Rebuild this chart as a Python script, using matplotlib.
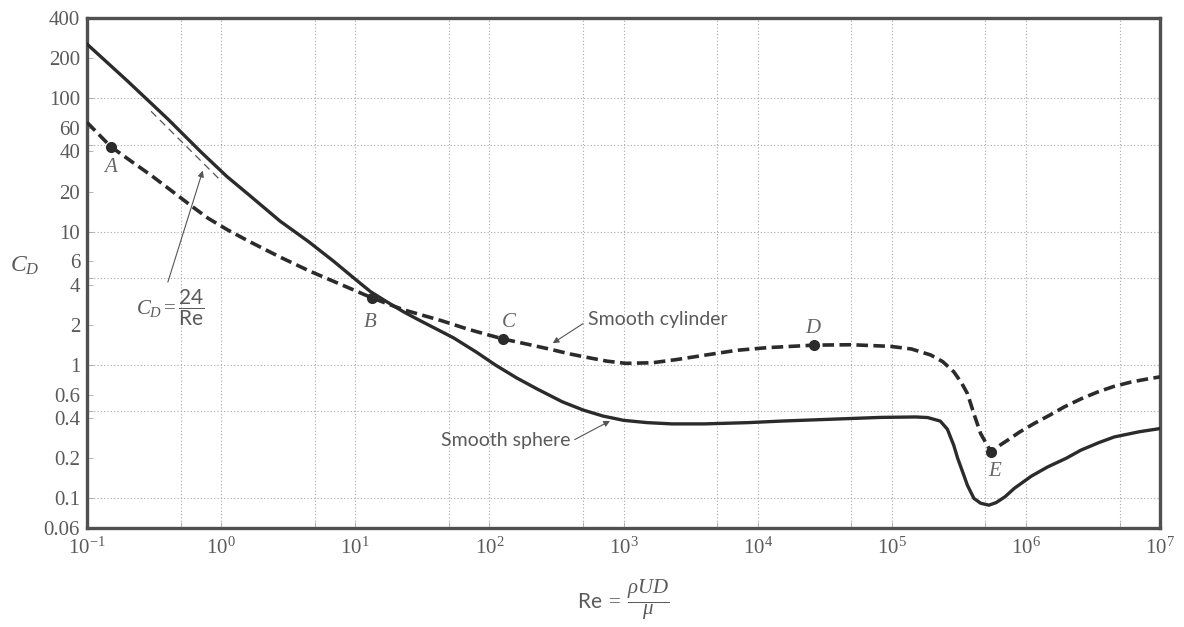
import matplotlib
matplotlib.use("Agg")
import matplotlib.pyplot as plt
import numpy as np

plt.rcParams['mathtext.fontset'] = 'custom'
plt.rcParams['mathtext.rm'] = 'Liberation Serif'
plt.rcParams['mathtext.it'] = 'Liberation Serif:italic'
plt.rcParams['mathtext.bf'] = 'Liberation Serif:bold'
plt.rcParams['mathtext.sf'] = 'Lato'

# ---- data ----
sphere_re = [0.1, 0.2, 0.4, 0.7, 1.1, 1.6, 2.75, 4.5, 6.9, 10, 13, 17, 23, 30, 54, 80, 111,
             160, 228, 350, 500, 700, 1000, 1500, 2300, 4000, 8500, 1.5e4, 3e4, 8.3e4,
             1.5e5, 1.85e5, 2.3e5, 2.6e5, 2.9e5, 3.1e5, 3.4e5, 3.67e5, 4.1e5, 4.6e5,
             5.3e5, 6.0e5, 7e5, 8.2e5, 1.1e6, 1.45e6, 2e6, 2.57e6, 3.5e6, 4.56e6, 7e6, 1e7]
sphere_cd = [255, 135, 70, 40, 26, 19, 12, 8.4, 6.0, 4.4, 3.55, 3.0, 2.5, 2.17, 1.6, 1.25, 1.0,
             0.8, 0.66, 0.53, 0.46, 0.415, 0.385, 0.37, 0.362, 0.362, 0.37, 0.38, 0.39, 0.405,
             0.408, 0.404, 0.38, 0.33, 0.25, 0.2, 0.155, 0.125, 0.1, 0.092,
             0.089, 0.093, 0.103, 0.119, 0.147, 0.172, 0.2, 0.23, 0.262, 0.289, 0.316, 0.334]

cyl_re = [0.1, 0.15, 0.22, 0.3, 0.42, 0.59, 0.8, 1.12, 1.6, 2.75, 4.5, 6.5, 9.7, 13.4, 22.8,
          44, 70, 126, 200, 278, 400, 538, 750, 1035, 1644, 2500, 4370, 7000, 1.18e4,
          2.63e4, 5e4, 9.8e4, 1.4e5, 1.95e5, 2.4e5, 2.9e5, 3.3e5, 3.67e5, 4.1e5, 4.6e5,
          5.5e5, 6.2e5, 7.3e5, 9e5, 1.15e6, 1.5e6, 1.93e6, 2.6e6, 3.43e6, 4.5e6, 6.1e6,
          8e6, 1e7]
cyl_cd = [66, 43.5, 33, 26.5, 20.5, 15.8, 12.6, 10.3, 8.5, 6.45, 5.1, 4.35, 3.66, 3.18, 2.6,
          2.15, 1.85, 1.57, 1.42, 1.32, 1.21, 1.14, 1.07, 1.03, 1.04, 1.1, 1.2, 1.29, 1.35,
          1.41, 1.42, 1.38, 1.32, 1.19, 1.06, 0.89, 0.74, 0.61, 0.43, 0.306,
          0.223, 0.245, 0.273, 0.315, 0.364, 0.42, 0.485, 0.56, 0.628, 0.69, 0.746,
          0.785, 0.815]

stokes_re = [0.3, 1.0]
stokes_cd = [80, 24]

point_labels = ['A', 'B', 'C', 'D', 'E']
point_re = [0.15, 13.4, 126, 2.63e4, 5.5e5]
point_cd = [43.5, 3.18, 1.57, 1.41, 0.223]

yticks = [400, 200, 100, 60, 40, 20, 10, 6, 4, 2, 1, 0.6, 0.4, 0.2, 0.1, 0.06]
ytick_labels = ['400', '200', '100', '60', '40', '20', '10', '6', '4', '2', '1',
                '0.6', '0.4', '0.2', '0.1', '0.06']
xticks = [1e-1, 1e0, 1e1, 1e2, 1e3, 1e4, 1e5, 1e6, 1e7]
xtick_labels = [r'$10^{-1}$', r'$10^{0}$', r'$10^{1}$', r'$10^{2}$', r'$10^{3}$',
                r'$10^{4}$', r'$10^{5}$', r'$10^{6}$', r'$10^{7}$']
xgrid_minor = [0.5, 5, 50, 500, 5e3, 5e4, 5e5, 5e6]
ygrid = [100, 45, 10, 4.5, 1, 0.45, 0.1]

# ---- figure ----
fig = plt.figure(figsize=(11.84, 6.27), dpi=100)
ax = fig.add_axes([87/1184, 1-528/627, (1160-87)/1184, (528-18)/627])
ax.set_xscale('log')
ax.set_yscale('log')
ax.set_xlim(0.1, 1e7)
ax.set_ylim(0.06, 400)

line_col = '#2b2b2b'
txt_col = '#5a5a5a'
grid_col = '#a8a8a8'
grid_ls = (0, (1, 2))

ax.set_xticks(xticks)
ax.set_xticklabels(xtick_labels)
ax.set_xticks(xgrid_minor, minor=True)
ax.set_xticklabels([], minor=True)
ax.set_yticks(yticks)
ax.set_yticklabels(ytick_labels)
ax.yaxis.remove_overlapping_locs = False
ax.set_yticks(ygrid, minor=True)
ax.set_yticklabels([], minor=True)
ax.grid(True, which='both', axis='x', linestyle=grid_ls, color=grid_col, lw=0.8)
ax.grid(True, which='minor', axis='y', linestyle=grid_ls, color=grid_col, lw=0.8)
ax.grid(False, which='major', axis='y')

ax.tick_params(which='both', direction='in', length=4, width=0.6, color='#aaaaaa')
ax.tick_params(axis='x', which='major', labelsize=15, labelcolor=txt_col, pad=6)
ax.tick_params(axis='y', which='major', labelsize=15, labelcolor=txt_col, pad=5)
for lab in ax.get_yticklabels():
    lab.set_fontfamily('Liberation Serif')

for s in ax.spines.values():
    s.set_linewidth(2.4)
    s.set_color('#505050')

# curves
ax.plot(sphere_re, sphere_cd, color=line_col, lw=2.4, solid_joinstyle='round', zorder=3)
ax.plot(cyl_re, cyl_cd, color=line_col, lw=2.6, linestyle=(0, (3.2, 1.5)), zorder=3)
ax.plot(stokes_re, stokes_cd, color='#555555', lw=0.9, linestyle=(0, (6, 4)), zorder=2)
ax.plot(point_re, point_cd, 'o', color=line_col, ms=7, zorder=4)

# point labels
lab_pos = {'A': (0.149, 30.5), 'B': (12.9, 2.1), 'C': (139, 2.1), 'D': (2.6e4, 1.88),
           'E': (5.8e5, 0.158)}
for name in point_labels:
    x, y = lab_pos[name]
    ax.text(x, y, name, fontsize=15, color='#666666', style='italic',
            family='Liberation Serif', ha='center', va='center')

# annotations
ax.text(540, 2.18, 'Smooth cylinder', fontsize=14, color=txt_col, family='Lato',
        ha='left', va='center')
ax.annotate('', xy=(285, 1.42), xytext=(520, 2.1),
            arrowprops=dict(arrowstyle='-|>', lw=0.8, color='#555555', mutation_scale=9))
ax.text(402, 0.27, 'Smooth sphere', fontsize=14, color=txt_col, family='Lato',
        ha='right', va='center')
ax.annotate('', xy=(828, 0.39), xytext=(415, 0.27),
            arrowprops=dict(arrowstyle='-|>', lw=0.8, color='#555555', mutation_scale=9))
ax.text(0.416, 2.68, r'$C_D = \dfrac{\mathsf{24}}{\mathsf{Re}}$', fontsize=15, color=txt_col,
        ha='center', va='center')
ax.annotate('', xy=(0.74, 30), xytext=(0.395, 4.0),
            arrowprops=dict(arrowstyle='-|>', lw=0.8, color='#555555', mutation_scale=9))

# axis labels
fig.text(25/1184, 1-265/627, r'$C_D$', fontsize=17, color=txt_col, ha='center', va='center')
fig.text(623/1184, 1-600/627, r'$\mathsf{Re}\;=\;\dfrac{\rho U D}{\mu}$', fontsize=15,
         color=txt_col, ha='center', va='center')

fig.savefig('out.png', dpi=100, facecolor='white')
